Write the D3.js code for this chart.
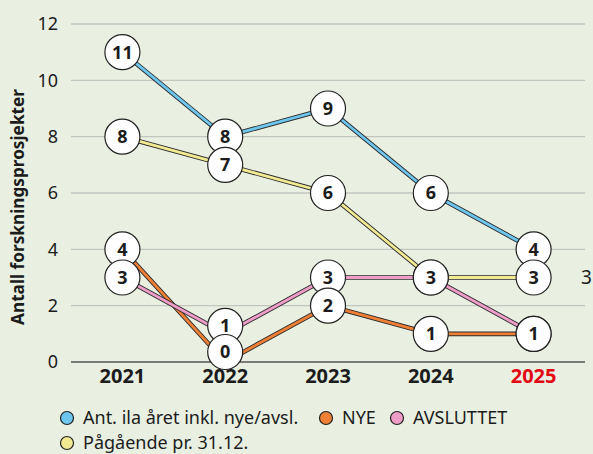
<!DOCTYPE html>
<html><head><meta charset="utf-8">
<script src="https://cdn.jsdelivr.net/npm/d3@7"></script>
<style>
html,body{margin:0;padding:0;background:#e9f0e2;}
svg{display:block;font-family:"Noto Sans",sans-serif;}
</style></head>
<body><svg id="c" width="593" height="454"></svg>
<script>
const years = ["2021","2022","2023","2024","2025"];
const yTicks = [0,2,4,6,8,10,12];
const seriesNames = ["Ant. ila året inkl. nye/avsl.","NYE","AVSLUTTET","Pågående pr. 31.12."];
const totalValues = [11,8,9,6,4];
const nyeValues = [4,0,2,1,1];
const avsluttetValues = [3,1,3,3,1];
const pagaendeValues = [8,7,6,3,3];
const seriesColors = ["#6ec6ee","#f07f36","#ee9cc8","#f1ea93"];
const strayLabel = "3";
const yTitle = "Antall forskningsprosjekter";

const series = [
  {name: seriesNames[0], values: totalValues, color: seriesColors[0]},
  {name: seriesNames[1], values: nyeValues, color: seriesColors[1]},
  {name: seriesNames[2], values: avsluttetValues, color: seriesColors[2]},
  {name: seriesNames[3], values: pagaendeValues, color: seriesColors[3]}
];
// label nudges to avoid overlap (pixels)
const nudge = {"NYE|2022": -10, "AVSLUTTET|2022": -8};

const FONT = '"Noto Sans",sans-serif';
const svg = d3.select("#c");
const x = d3.scaleBand().domain(years).range([71,585]);
const y = d3.scaleLinear().domain([0,12]).range([362,24]);
const cx = d => x(d) + x.bandwidth()/2;
const ink = "#1c1c1c";

// grid
svg.append("g").selectAll("line").data(yTicks).join("line")
  .attr("x1",71).attr("x2",585)
  .attr("y1",d=>y(d)).attr("y2",d=>y(d))
  .attr("stroke",d=>d===0?"#555":"#c2c6bf").attr("stroke-width",d=>d===0?1.5:1.3);

// y tick labels
const yAxis = d3.axisLeft(y).tickValues(yTicks).tickSize(0).tickPadding(0);
const ya = svg.append("g").attr("transform","translate(58,0)").call(yAxis)
  .attr("font-size",18).attr("font-family",FONT);
ya.select(".domain").remove();
ya.selectAll("text").attr("fill",ink);

// x labels
const xAxis = d3.axisBottom(x).tickSize(0).tickPadding(0);
const xa = svg.append("g").attr("transform","translate(0,369)").call(xAxis)
  .attr("font-size",20).attr("font-family",FONT).attr("font-weight","bold");
xa.select(".domain").remove();
xa.selectAll("text").attr("fill",d=>d==="2025"?"#e30613":ink);

// y title
svg.append("text").attr("transform","translate(24,207) rotate(-90)")
  .attr("text-anchor","middle").attr("font-size",17.2).attr("font-weight","bold")
  .attr("fill",ink).text(yTitle);

// lines
const line = d3.line().x((v,i)=>cx(years[i])).y(v=>y(v));
const lg = svg.append("g");
series.forEach(s=>{
  lg.append("path").attr("d",line(s.values)).attr("fill","none")
    .attr("stroke","#2a2a2a").attr("stroke-width",4.6).attr("stroke-linejoin","round");
  lg.append("path").attr("d",line(s.values)).attr("fill","none")
    .attr("stroke",s.color).attr("stroke-width",2.8).attr("stroke-linejoin","round");
});

// labels
const labels = [];
series.forEach(s=>s.values.forEach((v,i)=>{
  labels.push({v, x: cx(years[i]), y: y(v) + (nudge[s.name+"|"+years[i]]||0)});
}));
labels.sort((a,b)=>a.y-b.y);
const lab = svg.append("g").selectAll("g").data(labels).join("g")
  .attr("transform",d=>`translate(${d.x},${d.y})`);
lab.append("circle").attr("r",17.5).attr("fill","#fff").attr("stroke","#222").attr("stroke-width",1.2);
lab.append("text").attr("text-anchor","middle").attr("dy","0.36em")
  .attr("font-size",18).attr("font-weight","bold").attr("fill",ink).text(d=>d.v);

// stray label
svg.append("text").attr("x",581).attr("y",y(3)).attr("dy","0.36em")
  .attr("font-size",19).attr("fill",ink).text(strayLabel);

// legend
const legendPos = [[67,418],[326,418],[397,418],[67,443]];
const leg = svg.append("g").selectAll("g").data(series).join("g")
  .attr("transform",(d,i)=>`translate(${legendPos[i][0]},${legendPos[i][1]})`);
leg.append("circle").attr("r",6.5).attr("fill",d=>d.color).attr("stroke","#222").attr("stroke-width",1.2);
leg.append("text").attr("x",16).attr("dy","0.34em").attr("font-size",18)
  .attr("fill",ink).text(d=>d.name);
</script></body></html>
